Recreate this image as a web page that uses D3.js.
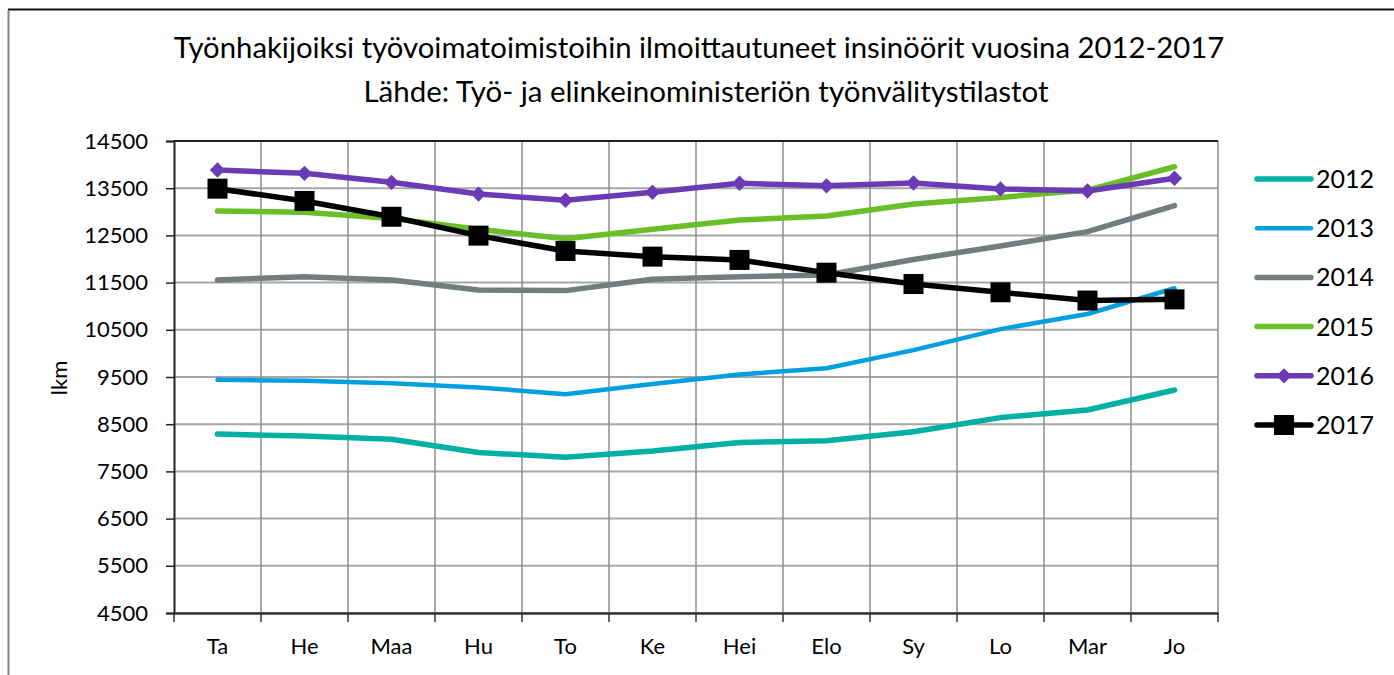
<!DOCTYPE html>
<html>
<head>
<meta charset="utf-8">
<script src="https://cdn.jsdelivr.net/npm/d3@7"></script>
<style>
  body { margin: 0; background: #fff; }
  svg text { font-family: Lato, "Open Sans", sans-serif; fill: #000; }
</style>
</head>
<body>
<div id="chart"></div>
<script>
// chart data
const months = ["Ta", "He", "Maa", "Hu", "To", "Ke", "Hei", "Elo", "Sy", "Lo", "Mar", "Jo"];
const years = ["2012", "2013", "2014", "2015", "2016", "2017"];
const v2012 = [8290, 8250, 8180, 7900, 7800, 7930, 8110, 8150, 8340, 8640, 8800, 9225];
const v2013 = [9440, 9420, 9365, 9280, 9135, 9350, 9555, 9685, 10070, 10515, 10835, 11380];
const v2014 = [11555, 11625, 11555, 11345, 11330, 11570, 11625, 11660, 11990, 12275, 12580, 13130];
const v2015 = [13015, 12990, 12860, 12630, 12430, 12630, 12825, 12910, 13165, 13305, 13460, 13955];
const v2016 = [13885, 13815, 13625, 13375, 13245, 13415, 13605, 13550, 13610, 13485, 13440, 13710];
const v2017 = [13490, 13230, 12895, 12495, 12170, 12050, 11980, 11710, 11470, 11295, 11120, 11145];
const yTicks = [4500, 5500, 6500, 7500, 8500, 9500, 10500, 11500, 12500, 13500, 14500];
const colors = ["#00b0a4", "#00a0e0", "#737d7d", "#6abf28", "#6a3bb5", "#000000"];

const width = 1394
const height = 675

const svg = d3.select("#chart")
    .append("svg")
    .attr("width", width)
    .attr("height", height)

// outer frame (top and left edges visible)
svg.append("line").attr("x1", 8).attr("x2", width).attr("y1", 9.5).attr("y2", 9.5)
    .attr("stroke", "#111").attr("stroke-width", 2)
svg.append("line").attr("x1", 8.5).attr("x2", 8.5).attr("y1", 10).attr("y2", height)
    .attr("stroke", "#808080").attr("stroke-width", 2)

// titles
svg.append("text").attr("x", 699).attr("y", 58).attr("text-anchor", "middle")
    .style("font-size", "29.3px")
    .text("Työnhakijoiksi työvoimatoimistoihin ilmoittautuneet insinöörit vuosina 2012-2017")
svg.append("text").attr("x", 706).attr("y", 102).attr("text-anchor", "middle")
    .style("font-size", "29.5px")
    .text("Lähde: Työ- ja elinkeinoministeriön työnvälitystilastot")

const plotLeft = 174, plotRight = 1218, plotTop = 141, plotBottom = 613

const x = d3.scaleBand().domain(months).range([plotLeft, plotRight])
const y = d3.scaleLinear().domain([4500, 14500]).range([plotBottom, plotTop])
const cx = d => x(d) + x.bandwidth() / 2

// gridlines
svg.append("g").selectAll("line")
    .data(yTicks)
    .join("line")
    .attr("x1", plotLeft).attr("x2", plotRight)
    .attr("y1", d => y(d)).attr("y2", d => y(d))
    .attr("stroke", "#a6a6a6").attr("stroke-width", 2)
svg.append("g").selectAll("line")
    .data(months)
    .join("line")
    .attr("x1", d => x(d) + x.bandwidth())
    .attr("x2", d => x(d) + x.bandwidth())
    .attr("y1", plotTop).attr("y2", plotBottom)
    .attr("stroke", "#8c8c8c").attr("stroke-width", 1.5)

// top border of plot
svg.append("line").attr("x1", plotLeft).attr("x2", plotRight).attr("y1", plotTop).attr("y2", plotTop)
    .attr("stroke", "#222").attr("stroke-width", 2)

// axes
const yAxis = svg.append("g")
    .attr("transform", `translate(${plotLeft},0)`)
    .call(d3.axisLeft(y).tickValues(yTicks).tickSize(8).tickPadding(18).tickFormat(d3.format("d")))
yAxis.select(".domain").attr("stroke", "#222").attr("stroke-width", 2)
yAxis.selectAll(".tick line").attr("stroke", "#222").attr("stroke-width", 1.5)
yAxis.selectAll("text").style("font-size", "22px").attr("font-family", null)

const xAxis = svg.append("g")
    .attr("transform", `translate(0,${plotBottom})`)
    .call(d3.axisBottom(x).tickSize(0).tickPadding(25))
xAxis.select(".domain").attr("stroke", "#333").attr("stroke-width", 2.5)
xAxis.selectAll("text").style("font-size", "22px").attr("font-family", null)
xAxis.append("g").selectAll("line")
    .data(months.concat(["end"]))
    .join("line")
    .attr("x1", (d, i) => plotLeft + i * x.bandwidth())
    .attr("x2", (d, i) => plotLeft + i * x.bandwidth())
    .attr("y1", 0).attr("y2", 9)
    .attr("stroke", "#333").attr("stroke-width", 1.5)

// y label
svg.append("text")
    .attr("transform", "translate(67,378) rotate(-90)")
    .attr("text-anchor", "middle")
    .style("font-size", "22px")
    .text("lkm")

// series
const series = [v2012, v2013, v2014, v2015, v2016, v2017].map((vals, i) => ({
    year: years[i],
    color: colors[i],
    values: vals.map((v, j) => ({ m: months[j], v: v }))
}))

const line = d3.line().x(d => cx(d.m)).y(d => y(d.v))

svg.append("g").selectAll("path")
    .data(series)
    .join("path")
    .attr("d", d => line(d.values))
    .attr("fill", "none")
    .attr("stroke", d => d.color)
    .attr("stroke-width", d => d.year == "2013" ? 4.5 : 5.5)
    .attr("stroke-linecap", "round")
    .attr("stroke-linejoin", "round")

// markers for 2016 (diamonds) and 2017 (squares)
svg.append("g").selectAll("path")
    .data(series[4].values)
    .join("path")
    .attr("d", d3.symbol(d3.symbolDiamond2, 150))
    .attr("transform", d => `translate(${cx(d.m)},${y(d.v)})`)
    .attr("fill", colors[4])
svg.append("g").selectAll("rect")
    .data(series[5].values)
    .join("rect")
    .attr("x", d => cx(d.m) - 10).attr("y", d => y(d.v) - 10)
    .attr("width", 20).attr("height", 20)
    .attr("fill", "#000")

// legend
const legend = svg.append("g").selectAll("g")
    .data(series)
    .join("g")
    .attr("transform", (d, i) => `translate(1255,${179 + i * 49.2})`)
legend.append("line")
    .attr("x1", 2).attr("x2", 56)
    .attr("stroke", d => d.color)
    .attr("stroke-width", d => d.year == "2013" ? 4.5 : 5.5)
    .attr("stroke-linecap", "round")
legend.filter(d => d.year == "2016").append("path")
    .attr("d", d3.symbol(d3.symbolDiamond2, 150))
    .attr("transform", "translate(29,0)")
    .attr("fill", colors[4])
legend.filter(d => d.year == "2017").append("rect")
    .attr("x", 19).attr("y", -10).attr("width", 20).attr("height", 20)
    .attr("fill", "#000")
legend.append("text")
    .attr("x", 61).attr("dy", "0.36em")
    .style("font-size", "25px")
    .text(d => d.year)
</script>
</body>
</html>
